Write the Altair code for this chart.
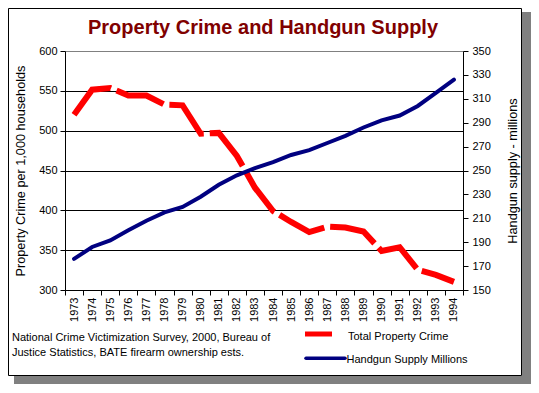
import altair as alt
import pandas as pd

# ---- data ----
years = [str(y) for y in range(1973, 1995)]
property_crime = [519.9, 551.5, 553.6, 544.2, 544.1, 532.6, 531.8, 496.1, 497.2, 468.3,
                  428.4, 399.2, 385.4, 372.7, 379.6, 378.4, 373.4, 348.9, 353.7, 325.3,
                  318.9, 310.2]
handgun_supply = [176, 186, 191.5, 200, 208, 215, 219.5, 228, 238, 246,
                  252, 257, 263, 267, 273, 279, 286, 292, 296, 304,
                  315, 326]
crime_ticks = [300, 350, 400, 450, 500, 550, 600]
handgun_ticks = [150, 170, 190, 210, 230, 250, 270, 290, 310, 330, 350]

title_text = ["Property Crime and Handgun Supply"]
left_title = "Property Crime per 1,000 households"
right_title = "Handgun supply - millions"
source_line1 = ["National Crime Victimization Survey, 2000, Bureau of"]
source_line2 = ["Justice Statistics, BATE firearm ownership ests."]
legend_crime = ["Total Property Crime"]
legend_handgun = ["Handgun Supply Millions"]

FONT = "Liberation Sans"
RED = "#ff0000"
NAVY = "#000080"

df = pd.DataFrame({"year": years, "crime": property_crime, "handgun": handgun_supply})
one = pd.DataFrame({"k": [0]})

x_enc = alt.X(
    "year:O",
    bandPosition=0.5,
    scale=alt.Scale(type="band", paddingInner=0, paddingOuter=0),
    axis=alt.Axis(title=None, labelAngle=270, tickBand="extent", labelFontSize=11,
                  labelPadding=2, tickSize=5, grid=False, domainColor="black",
                  tickColor="black", labelColor="black", labelFont=FONT),
)

crime_line = alt.Chart(df).mark_line(
    color=RED, strokeWidth=6, strokeDash=[50, 6], strokeCap="butt", strokeJoin="miter"
).encode(
    x=x_enc,
    y=alt.Y("crime:Q",
            scale=alt.Scale(domain=[300, 600], nice=False, zero=False),
            axis=alt.Axis(orient="left", values=crime_ticks, title=left_title,
                          titleAngle=270, titleX=-45, titleAlign="center",
                          titleBaseline="middle", titleFontSize=12.7,
                          titleFontWeight="normal", titleFont=FONT, titleColor="black",
                          labelFontSize=11, labelFont=FONT, labelColor="black",
                          tickSize=5, labelPadding=3, tickColor="black",
                          domainColor="black", grid=True,
                          gridColor=alt.condition("datum.value >= 600",
                                                  alt.value("#808080"),
                                                  alt.value("black")),
                          gridOpacity=1)),
)

handgun_line = alt.Chart(df).mark_line(
    color=NAVY, strokeWidth=4, strokeCap="round"
).encode(
    x=x_enc,
    y=alt.Y("handgun:Q",
            scale=alt.Scale(domain=[150, 350], nice=False, zero=False),
            axis=alt.Axis(orient="right", values=handgun_ticks, title=right_title,
                          titleAngle=270, titleX=49, titleAlign="center",
                          titleBaseline="middle", titleFontSize=12.7,
                          titleFontWeight="normal", titleFont=FONT, titleColor="black",
                          labelFontSize=11, labelFont=FONT, labelColor="black",
                          tickSize=5, labelPadding=4, tickColor="black",
                          domainColor="black", grid=False)),
)

lines = alt.layer(crime_line, handgun_line).resolve_scale(y="independent")

# ---- frame and shadow ----
shadow_right = alt.Chart(one).mark_rect(color="#808080").encode(
    x=alt.value(457), x2=alt.value(466), y=alt.value(-39), y2=alt.value(333))
shadow_bottom = alt.Chart(one).mark_rect(color="#808080").encode(
    x=alt.value(-51), x2=alt.value(466), y=alt.value(325), y2=alt.value(333))
frame = alt.Chart(one).mark_rect(filled=False, stroke="black", strokeWidth=1).encode(
    x=alt.value(-56.5), x2=alt.value(456.5), y=alt.value(-42.5), y2=alt.value(324.5))

# ---- texts ----
title = alt.Chart(pd.DataFrame({"t": title_text})).mark_text(
    font=FONT, fontSize=20, fontWeight="bold", color="#800000",
    align="center", baseline="alphabetic"
).encode(text="t:N", x=alt.value(198), y=alt.value(-17))

src1 = alt.Chart(pd.DataFrame({"t": source_line1})).mark_text(
    font=FONT, fontSize=11, color="black", align="left", baseline="alphabetic"
).encode(text="t:N", x=alt.value(-53), y=alt.value(290))
src2 = alt.Chart(pd.DataFrame({"t": source_line2})).mark_text(
    font=FONT, fontSize=11, color="black", align="left", baseline="alphabetic"
).encode(text="t:N", x=alt.value(-53), y=alt.value(304.5))

# ---- legend ----
leg_red = alt.Chart(one).mark_rule(color=RED, strokeWidth=5, strokeCap="butt").encode(
    x=alt.value(240), x2=alt.value(267), y=alt.value(283))
leg_blue = alt.Chart(one).mark_rule(color=NAVY, strokeWidth=3.5, strokeCap="round").encode(
    x=alt.value(241), x2=alt.value(280), y=alt.value(307.3))
leg_t1 = alt.Chart(pd.DataFrame({"t": legend_crime})).mark_text(
    font=FONT, fontSize=11, color="black", align="left", baseline="alphabetic"
).encode(text="t:N", x=alt.value(283), y=alt.value(288.5))
leg_t2 = alt.Chart(pd.DataFrame({"t": legend_handgun})).mark_text(
    font=FONT, fontSize=11, color="black", align="left", baseline="alphabetic"
).encode(text="t:N", x=alt.value(281.5), y=alt.value(311.7))

chart = alt.layer(
    shadow_right, shadow_bottom, frame, lines, title, src1, src2,
    leg_red, leg_blue, leg_t1, leg_t2
).properties(
    width=398, height=239,
    autosize=alt.AutoSizeParams(type="none"),
    padding={"left": 57, "top": 43, "right": 68, "bottom": 94},
    background="white",
).configure_view(stroke=None)

chart.save("out.html", embed_options={"renderer": "svg", "actions": False})
